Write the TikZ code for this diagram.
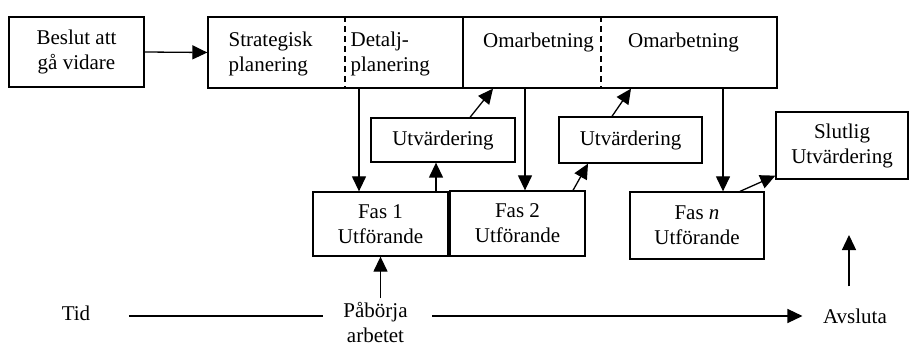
\documentclass[tikz,border=0pt]{standalone}
\usepackage{fontspec}
\setmainfont{Liberation Serif}
\usetikzlibrary{arrows.meta}
\begin{document}
\begin{tikzpicture}[x=1pt, y=-1pt, font=\fontsize{21}{25}\selectfont,
  every node/.style={inner sep=0pt, align=center},
  every path/.style={line width=1.3pt},
  box/.style={draw, rectangle},
  arr/.style={-{Triangle[length=15pt,width=14pt]}}]
\useasboundingbox (0,0) rectangle (909,347);
\node[box, minimum width=135, minimum height=70] (beslut) at (76.5,52) {Beslut att\\gå vidare};
\node[box, minimum width=255, minimum height=71] (plan) at (335.5,52.5) {};
\node[box, minimum width=314, minimum height=71] (omarb) at (620,52.5) {};
\node[anchor=west, align=left] (strat) at (228,54) {Strategisk\\planering};
\node[anchor=west, align=left] (detalj) at (350,54) {Detalj-\\planering};
\node[anchor=base] (om1) at (538.5,48) {Omarbetning};
\node[anchor=base] (om2) at (683.5,48) {Omarbetning};
\draw[dash pattern=on 6pt off 4pt] ([xshift=9.5pt]plan.north) -- ([xshift=9.5pt]plan.south);
\draw[dash pattern=on 6pt off 4pt] ([xshift=-19pt]omarb.north) -- ([xshift=-19pt]omarb.south);
\node[box, minimum width=144, minimum height=44] (utv1) at (443,140) {Utvärdering};
\node[box, minimum width=143, minimum height=46] (utv2) at (630.5,140) {Utvärdering};
\node[box, minimum width=132, minimum height=67] (slut) at (842,145.5) {Slutlig\\Utvärdering};
\node[box, minimum width=135, minimum height=64] (fas1) at (380.5,224) {Fas 1\\Utförande};
\node[box, minimum width=135, minimum height=65] (fas2) at (517.5,223.5) {Fas 2\\Utförande};
\node[box, minimum width=134, minimum height=67] (fasn) at (697,225.5) {Fas \textit{n}\\Utförande};
\node (tid) at (76,313) {Tid};
\node (pab) at (375.5,322) {Påbörja\\arbetet};
\node (avs) at (855,316.5) {Avsluta};
\coordinate (slutmal) at (849,235);
\draw[arr] (beslut.east) -- (plan.west);
\draw[arr] ([xshift=-21.5pt]fas1.north |- plan.south) -- ([xshift=-21.5pt]fas1.north);
\draw[arr] ([xshift=55.5pt]fas1.north) -- ([xshift=55.5pt]fas1.north |- utv1.south);
\draw[arr] ([xshift=27pt]utv1.north) -- ([xshift=-127pt]omarb.south);
\draw[arr] ([xshift=7.5pt]fas2.north |- omarb.south) -- ([xshift=7.5pt]fas2.north);
\draw[arr] ([xshift=55.5pt]fas2.north) -- ([xshift=-42.5pt]utv2.south);
\draw[arr] ([xshift=-18.5pt]utv2.north) -- ([xshift=11pt]omarb.south);
\draw[arr] ([xshift=26pt]fasn.north |- omarb.south) -- ([xshift=26pt]fasn.north);
\draw[arr] ([xshift=43pt]fasn.north) -- ([yshift=4pt]slut.south west);
\draw[shorten <=38pt, shorten >=20pt] ([yshift=-3pt]tid.east) -- ([yshift=-3pt]tid.east -| pab.west);
\draw[arr, shorten <=24pt, shorten >=20pt] ([yshift=-3pt]tid.east -| pab.east) -- ([yshift=-3pt]tid.east -| avs.west);
\draw[arr, shorten <=3pt] (fas1.south |- pab.north) -- (fas1.south);
\draw[arr, shorten <=22pt] (avs.north -| slutmal) -- (slutmal);
\end{tikzpicture}
\end{document}
